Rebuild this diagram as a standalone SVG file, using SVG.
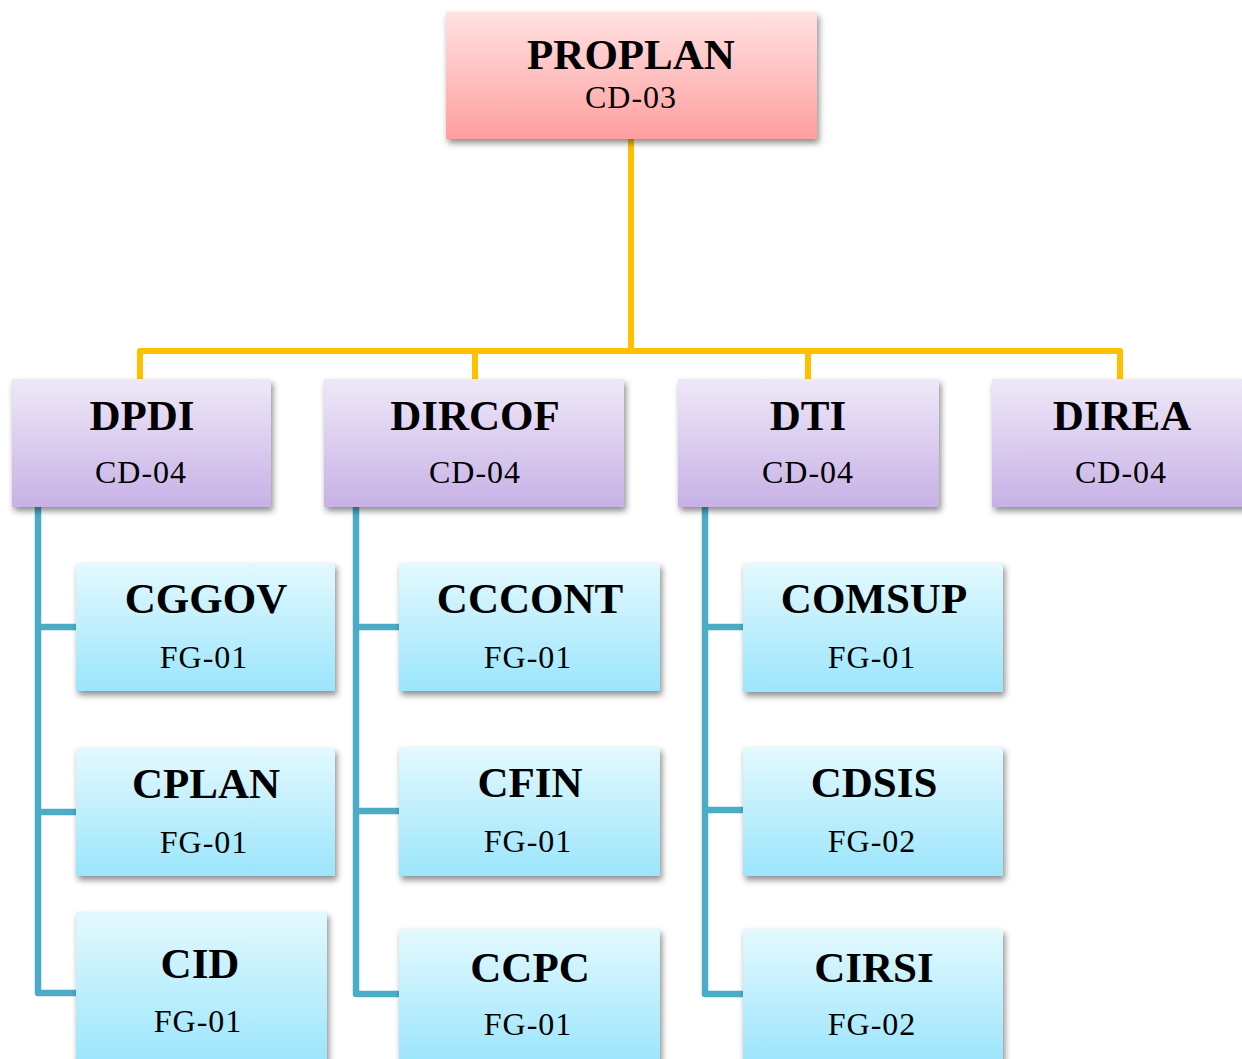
<svg xmlns="http://www.w3.org/2000/svg" width="1242" height="1059" viewBox="0 0 1242 1059">
<style>
.t{font-family:"Liberation Serif","Times New Roman",serif;font-weight:bold;font-size:43px;fill:#000;text-anchor:middle}
.s{font-family:"Liberation Serif","Times New Roman",serif;font-size:32px;letter-spacing:1px;fill:#000;text-anchor:middle}
.y{fill:none;stroke:#FFC000;stroke-width:6;stroke-linejoin:round;stroke-linecap:butt}
.b{fill:none;stroke:#4BACC6;stroke-width:6.5;stroke-linejoin:round;stroke-linecap:butt}
</style>
<defs>
<linearGradient id="gp" x1="0" y1="0" x2="0" y2="1"><stop offset="0" stop-color="#FFE2E2"/><stop offset="1" stop-color="#FF9E9E"/></linearGradient>
<linearGradient id="gv" x1="0" y1="0" x2="0" y2="1"><stop offset="0" stop-color="#EFE8F8"/><stop offset="1" stop-color="#C7B1E6"/></linearGradient>
<linearGradient id="gb" x1="0" y1="0" x2="0" y2="1"><stop offset="0" stop-color="#E3F9FE"/><stop offset="1" stop-color="#9BE5FC"/></linearGradient>
<filter id="sh" x="-10%" y="-10%" width="125%" height="130%"><feDropShadow dx="2" dy="4" stdDeviation="3" flood-color="#000" flood-opacity="0.45"/></filter>
</defs>
<rect width="1242" height="1059" fill="#fff"/>
<g id="connectors">
<path class="y" d="M631,139 V351 M140,379 V351 H1120 V379 M475,351 V379 M808,351 V379"/>
<path class="b" d="M38,507 V993 H76 M38,627 H76 M38,812 H76"/>
<path class="b" d="M356,507 V994 H399 M356,627 H399 M356,811 H399"/>
<path class="b" d="M705,507 V994 H743 M705,627 H743 M705,810 H743"/>
</g>
<g id="PROPLAN"><rect x="446" y="12" width="371" height="127" fill="url(#gp)" filter="url(#sh)"/><text class="t" x="631" y="69">PROPLAN</text><text class="s" x="631" y="108">CD-03</text></g>
<g id="DPDI"><rect x="12" y="379" width="259" height="128" fill="url(#gv)" filter="url(#sh)"/><text class="t" x="142" y="430">DPDI</text><text class="s" x="141" y="483">CD-04</text></g>
<g id="DIRCOF"><rect x="324" y="379" width="300" height="128" fill="url(#gv)" filter="url(#sh)"/><text class="t" x="475" y="430">DIRCOF</text><text class="s" x="475" y="483">CD-04</text></g>
<g id="DTI"><rect x="678" y="379" width="261" height="128" fill="url(#gv)" filter="url(#sh)"/><text class="t" x="808" y="430">DTI</text><text class="s" x="808" y="483">CD-04</text></g>
<g id="DIREA"><rect x="992" y="379" width="262" height="128" fill="url(#gv)" filter="url(#sh)"/><text class="t" x="1122" y="430">DIREA</text><text class="s" x="1121" y="483">CD-04</text></g>
<g id="CGGOV"><rect x="76" y="563" width="259" height="128" fill="url(#gb)" filter="url(#sh)"/><text class="t" x="206" y="613">CGGOV</text><text class="s" x="204" y="668">FG-01</text></g>
<g id="CPLAN"><rect x="76" y="748" width="259" height="128" fill="url(#gb)" filter="url(#sh)"/><text class="t" x="206" y="798">CPLAN</text><text class="s" x="204" y="853">FG-01</text></g>
<g id="CID"><rect x="76" y="912" width="251" height="152" fill="url(#gb)" filter="url(#sh)"/><text class="t" x="200" y="978">CID</text><text class="s" x="198" y="1032">FG-01</text></g>
<g id="CCCONT"><rect x="399" y="563" width="261" height="128" fill="url(#gb)" filter="url(#sh)"/><text class="t" x="530" y="613">CCCONT</text><text class="s" x="528" y="668">FG-01</text></g>
<g id="CFIN"><rect x="399" y="747" width="261" height="129" fill="url(#gb)" filter="url(#sh)"/><text class="t" x="530" y="797">CFIN</text><text class="s" x="528" y="852">FG-01</text></g>
<g id="CCPC"><rect x="399" y="929" width="261" height="135" fill="url(#gb)" filter="url(#sh)"/><text class="t" x="530" y="982">CCPC</text><text class="s" x="528" y="1035">FG-01</text></g>
<g id="COMSUP"><rect x="743" y="563" width="260" height="129" fill="url(#gb)" filter="url(#sh)"/><text class="t" x="874" y="613">COMSUP</text><text class="s" x="872" y="668">FG-01</text></g>
<g id="CDSIS"><rect x="743" y="747" width="260" height="129" fill="url(#gb)" filter="url(#sh)"/><text class="t" x="874" y="797">CDSIS</text><text class="s" x="872" y="852">FG-02</text></g>
<g id="CIRSI"><rect x="743" y="929" width="260" height="135" fill="url(#gb)" filter="url(#sh)"/><text class="t" x="874" y="982">CIRSI</text><text class="s" x="872" y="1035">FG-02</text></g>
</svg>
